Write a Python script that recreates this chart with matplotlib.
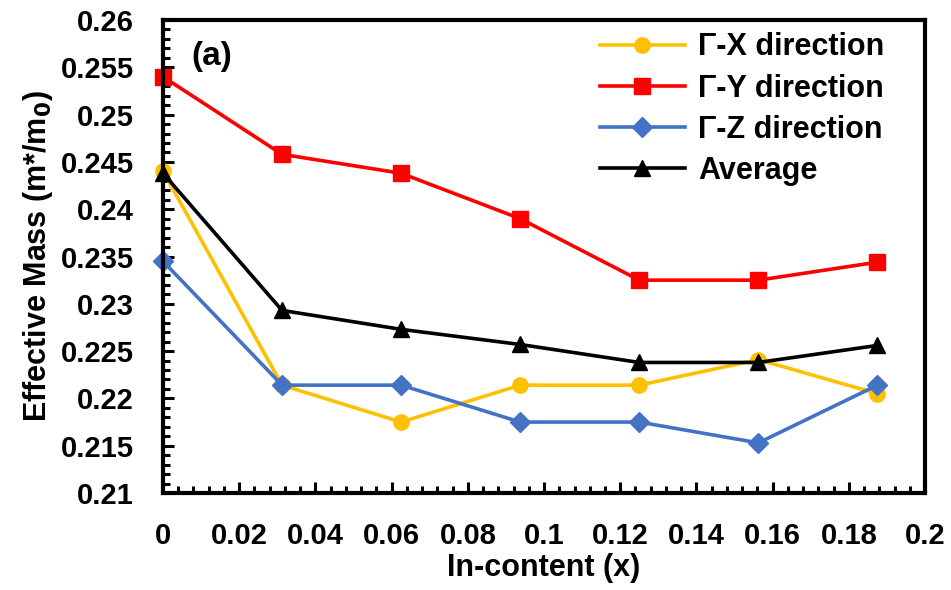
import matplotlib
matplotlib.use("Agg")
import matplotlib.pyplot as plt
from matplotlib.ticker import MultipleLocator, FuncFormatter

plt.rcParams["font.family"] = ["Liberation Sans", "DejaVu Sans"]
plt.rcParams["font.weight"] = "bold"
plt.rcParams["mathtext.default"] = "bf"

# In content (x) and effective mass along each direction
x_in = [0, 0.03125, 0.0625, 0.09375, 0.125, 0.15625, 0.1875]
m_gx = [0.2440, 0.2214, 0.2175, 0.2214, 0.2214, 0.2241, 0.2205]
m_gy = [0.2540, 0.2458, 0.2438, 0.2390, 0.2325, 0.2325, 0.2344]
m_gz = [0.2345, 0.2214, 0.2214, 0.2175, 0.2175, 0.2153, 0.2214]
m_avg = [0.2438, 0.2293, 0.2273, 0.2257, 0.2238, 0.2238, 0.2256]

YELLOW, RED, BLUE, BLACK = "#FFC000", "#FF0000", "#4472C4", "#000000"

fig = plt.figure(figsize=(9.51, 5.90), dpi=100)
ax = fig.add_axes([0.1714, 0.1644, 0.8013, 0.8017])

lw = 2.6
ax.plot(x_in, m_gx, color=YELLOW, lw=lw, marker="o", ms=11, label="Γ-X direction", clip_on=False)
ax.plot(x_in, m_gy, color=RED, lw=lw, marker="s", ms=12, label="Γ-Y direction", clip_on=False)
ax.plot(x_in, m_gz, color=BLUE, lw=lw, marker="D", ms=10.5, label="Γ-Z direction", clip_on=False)
ax.plot(x_in, m_avg, color=BLACK, lw=lw, marker="^", ms=12, label="Average", clip_on=False)

ax.set_xlim(0, 0.2)
ax.set_ylim(0.21, 0.26)
ax.xaxis.set_major_locator(MultipleLocator(0.02))
ax.xaxis.set_minor_locator(MultipleLocator(0.004))
ax.yaxis.set_major_locator(MultipleLocator(0.005))
ax.yaxis.set_minor_locator(MultipleLocator(0.001))
ax.xaxis.set_major_formatter(FuncFormatter(lambda v, p: f"{v:.2f}".rstrip("0").rstrip(".") if v else "0"))
ax.yaxis.set_major_formatter(FuncFormatter(lambda v, p: f"{v:.3f}".rstrip("0").rstrip(".")))

ax.tick_params(which="both", direction="in", width=2.2)
ax.tick_params(which="major", length=8)
ax.tick_params(which="minor", length=5)
ax.tick_params(axis="y", labelsize=21, pad=21)
ax.tick_params(axis="x", labelsize=21, pad=21)
for s in ax.spines.values():
    s.set_linewidth(3)

ax.set_xlabel("In-content (x)", fontsize=22, fontweight="bold", labelpad=2)
ax.set_ylabel("Effective Mass (m*/m$_0$)", fontsize=22, fontweight="bold", labelpad=4)

ax.text(0.037, 0.955, "(a)", transform=ax.transAxes, fontsize=24, fontweight="bold",
        ha="left", va="top")

ax.legend(loc="upper right", bbox_to_anchor=(0.963, 1.0), frameon=False,
          fontsize=22, handlelength=2.8, labelspacing=0.37, borderaxespad=0.0,
          handletextpad=0.43)

fig.savefig("out.png", dpi=100)
